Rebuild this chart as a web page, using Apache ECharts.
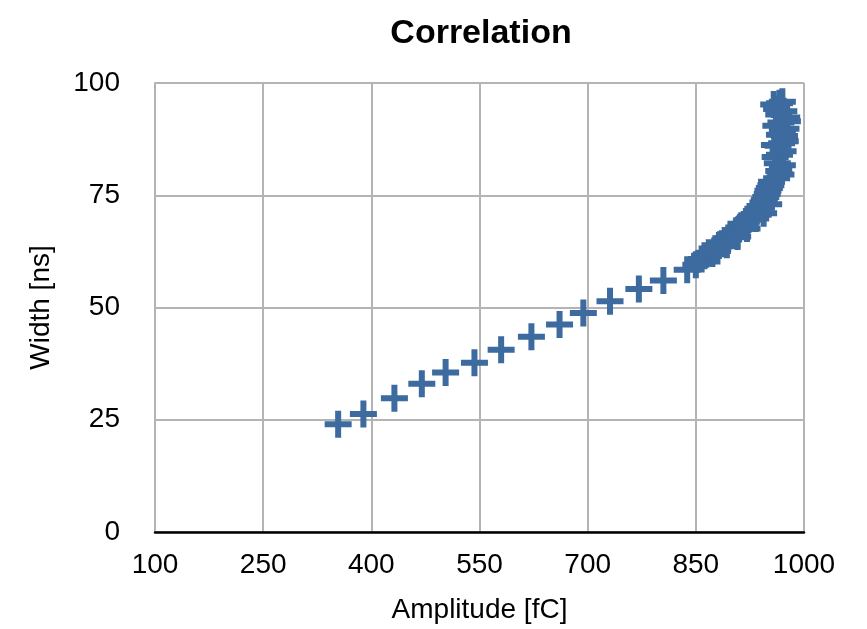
<!DOCTYPE html>
<html>
<head>
<meta charset="utf-8">
<script src="https://cdn.jsdelivr.net/npm/echarts@6/dist/echarts.min.js"></script>
<style>
  html, body { margin: 0; padding: 0; background: #fff; }
  #main { width: 867px; height: 629px; }
</style>
</head>
<body>
<div id="main"></div>
<script>
// amplitude [fC] / width [ns] pairs
var amplitude = [
  354, 389, 432, 470, 503, 543, 580, 622, 661, 694, 731, 771, 805, 838,
  850, 858, 862, 868, 873, 877, 882, 886, 890, 895, 898, 903, 906, 910,
  913, 917, 920, 923, 926, 929, 931, 934, 936, 939, 941, 943, 945, 947,
  949, 950, 952, 954, 955, 880, 893, 908, 921, 933, 944, 951,
  962, 968, 965, 970, 963, 960, 966, 971, 964, 969, 973, 966, 970, 975,
  977, 968, 965, 972, 958, 966, 970, 962, 974, 961, 976, 959
];
var width = [
  24.0, 26.3, 29.8, 33.0, 35.5, 37.7, 40.6, 43.5, 46.2, 48.8, 51.4, 54.1, 56.0, 58.4,
  59.5, 60.8, 61.5, 62.2, 62.0, 63.1, 63.8, 64.2, 64.9, 65.5, 66.3, 66.0, 67.1, 67.5,
  68.2, 68.0, 69.1, 69.6, 70.2, 70.0, 70.8, 71.5, 72.0, 72.6, 72.2, 73.4, 74.0, 74.6,
  75.3, 76.0, 76.6, 77.2, 78.0, 62.6, 64.0, 65.8, 67.6, 69.8, 71.0, 73.0,
  78.8, 79.6, 80.4, 81.7, 82.1, 83.5, 84.0, 84.8, 86.0, 86.6, 88.2, 88.5, 89.5, 89.8,
  91.5, 91.2, 93.0, 93.7, 95.2, 95.5, 95.8, 94.2, 87.0, 90.5, 92.3, 86.2
];
var xTicks = [100, 1000, 150];   // min, max, step
var yTicks = [0, 100, 25];

var points = amplitude.map(function (a, i) { return [a, width[i]]; });

var myChart = echarts.init(document.getElementById('main'));
var font = 'Liberation Sans, Arial, Helvetica, sans-serif';
var gridLine = { show: true, lineStyle: { color: '#b4b4b4', width: 2 } };

var option = {
  backgroundColor: '#fff',
  animation: false,
  title: {
    text: 'Correlation',
    left: 476,
    textAlign: 'center',
    top: 12,
    textStyle: { fontFamily: font, fontSize: 34, fontWeight: 'bold', color: '#000' }
  },
  grid: { left: 155, right: 63, top: 83, bottom: 88 },
  xAxis: {
    type: 'value',
    min: xTicks[0], max: xTicks[1], interval: xTicks[2],
    name: 'Amplitude [fC]',
    nameLocation: 'middle',
    nameGap: 64,
    nameTextStyle: { fontFamily: font, fontSize: 28, color: '#000' },
    axisLine: { show: true, onZero: false, lineStyle: { color: '#000', width: 2.5 } },
    axisTick: { show: false },
    axisLabel: { fontFamily: font, fontSize: 28, color: '#000', margin: 19,
      formatter: function (v) { return String(v); } },
    splitLine: gridLine
  },
  yAxis: {
    type: 'value',
    min: yTicks[0], max: yTicks[1], interval: yTicks[2],
    name: 'Width [ns]',
    nameLocation: 'middle',
    nameGap: 100,
    nameTextStyle: { fontFamily: font, fontSize: 28, color: '#000' },
    axisLine: { show: true, lineStyle: { color: '#b4b4b4', width: 2 } },
    axisTick: { show: false },
    axisLabel: { fontFamily: font, fontSize: 28, color: '#000', margin: 35 },
    splitLine: gridLine
  },
  series: [{
    type: 'scatter',
    data: points,
    symbol: 'path://M0,10.5H27V16.5H0Z M10.5,0H16.5V27H10.5Z',
    symbolSize: 27,
    itemStyle: { color: '#3d6b9f', opacity: 1 }
  }]
};
myChart.setOption(option);
</script>
</body>
</html>
